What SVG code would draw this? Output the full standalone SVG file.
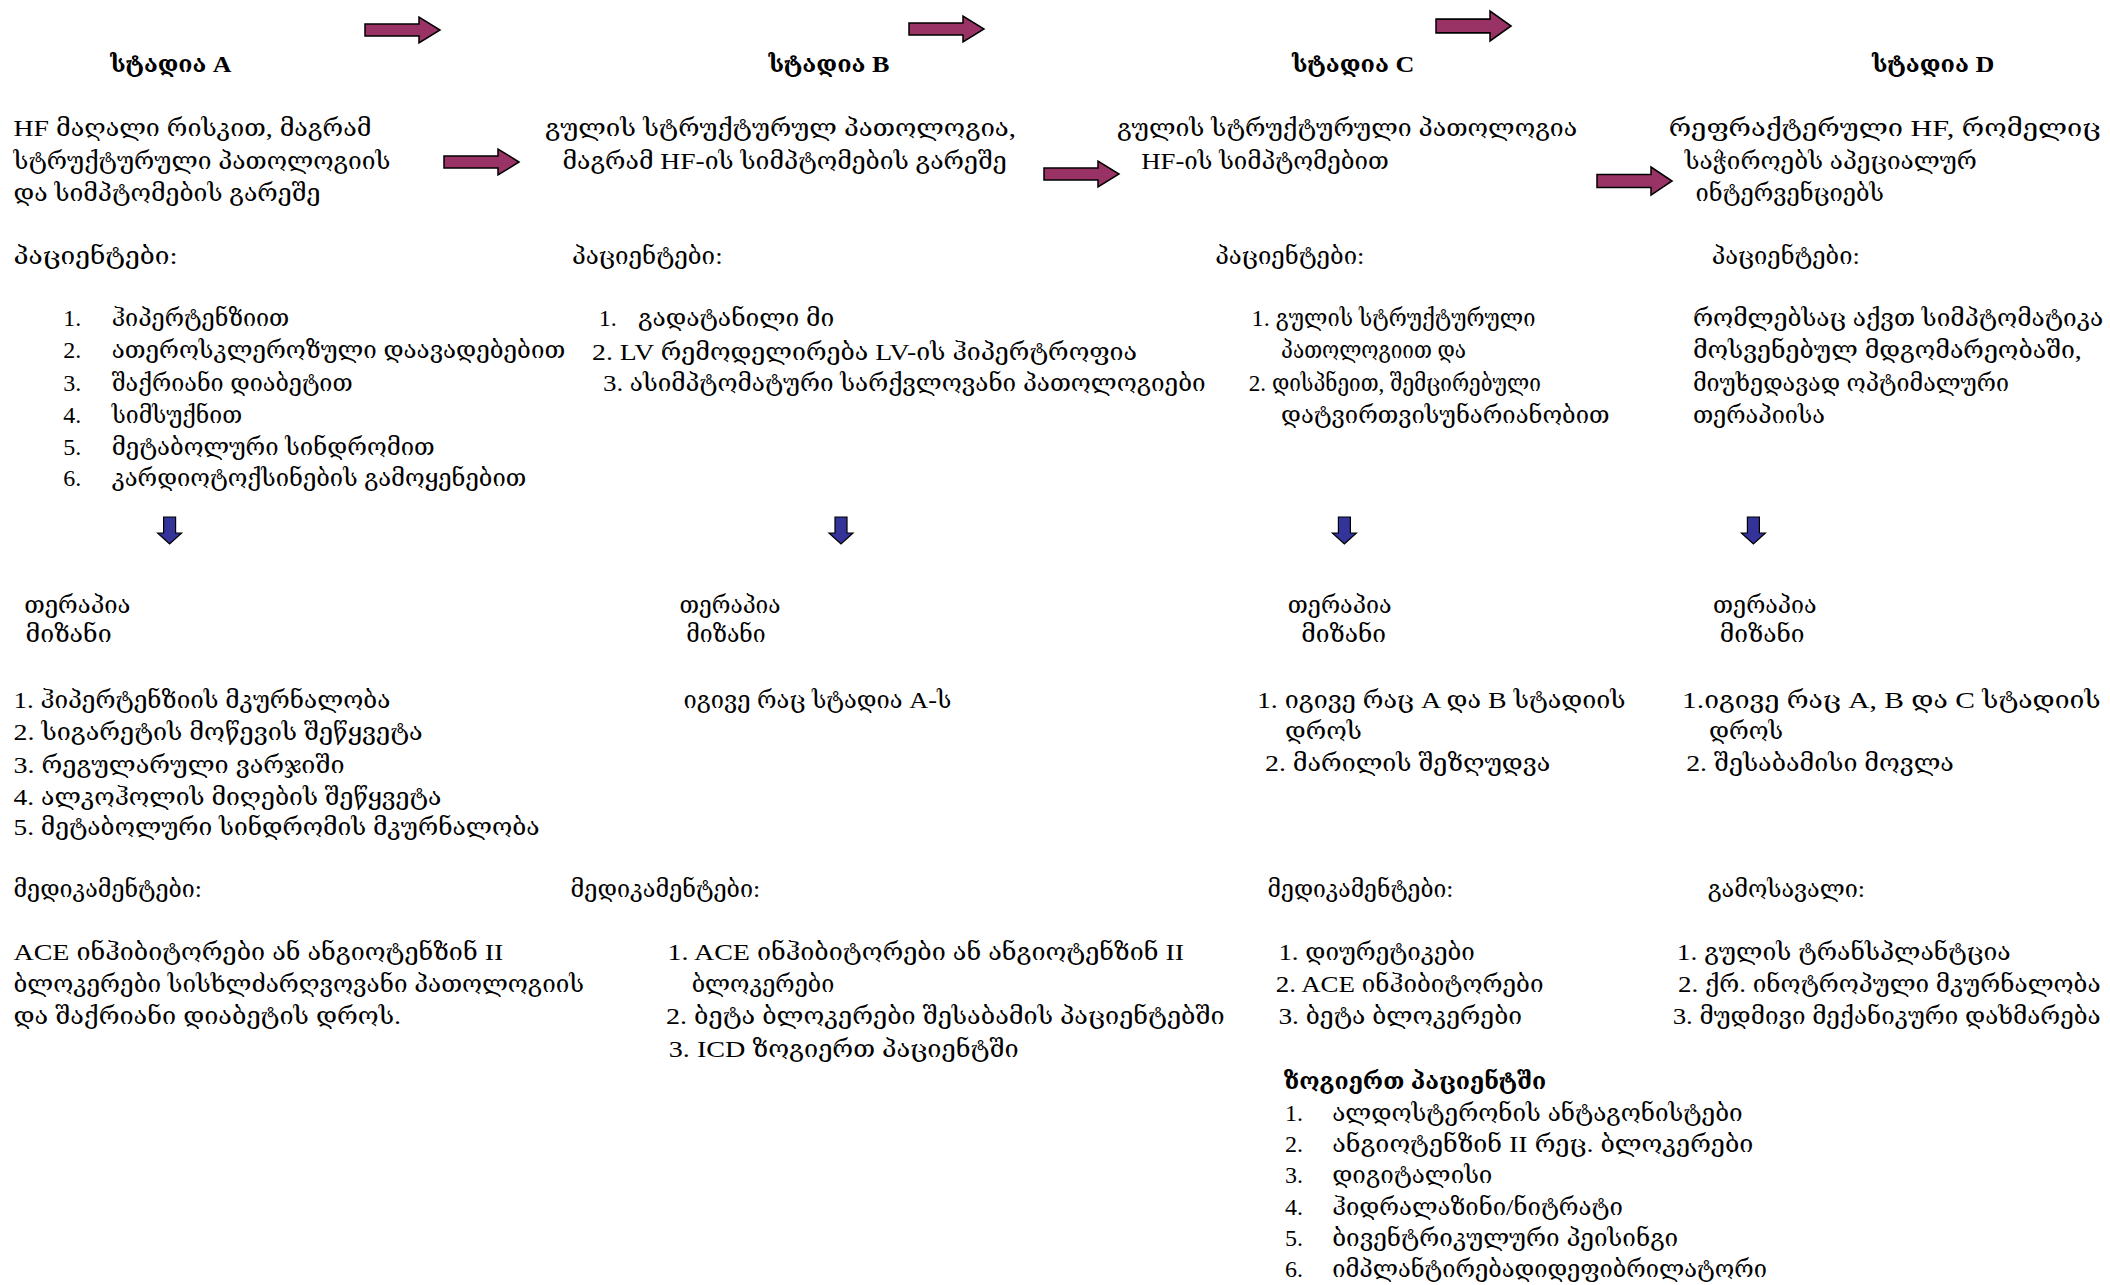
<svg xmlns="http://www.w3.org/2000/svg" xmlns:xlink="http://www.w3.org/1999/xlink" width="2110" height="1285" viewBox="0 0 2110 1285">
<style>
text{font-family:'Liberation Serif','DejaVu Serif Condensed','DejaVu Serif',serif;font-size:24px;fill:#000}
.b{font-weight:bold}
.ra{fill:#993366;stroke:#000;stroke-width:1.5}
.da{fill:#333399;stroke:#000;stroke-width:1.2}
</style>
<defs>
<path id="rarrow" d="M0,7 H54 V0 L75,13 L54,26 V19 H0 Z"/>
<path id="darrow" d="M-6,0 H6 V16 H12 L0,27 L-12,16 H-6 Z"/>
</defs>
<rect width="2110" height="1285" fill="#fff"/>

<g id="connectors">
<use href="#rarrow" class="ra" x="365" y="17"/>
<use href="#rarrow" class="ra" x="909" y="16"/>
<use href="#rarrow" class="ra" transform="translate(1436,11) scale(1,1.15)"/>
<use href="#rarrow" class="ra" x="444" y="149"/>
<use href="#rarrow" class="ra" x="1044" y="161"/>
<use href="#rarrow" class="ra" transform="translate(1597,167) scale(1,1.08)"/>
<use href="#darrow" class="da" x="169.6" y="517"/>
<use href="#darrow" class="da" x="841" y="517"/>
<use href="#darrow" class="da" x="1344.4" y="517"/>
<use href="#darrow" class="da" x="1753.4" y="517"/>
</g>

<g id="stageA">
<text class="b" x="110.3" y="72" textLength="121.2" lengthAdjust="spacingAndGlyphs">სტადია A</text>
<text x="13.5" y="136" textLength="357.9" lengthAdjust="spacingAndGlyphs">HF მაღალი რისკით, მაგრამ</text>
<text x="13.5" y="168.5" textLength="376.8" lengthAdjust="spacingAndGlyphs">სტრუქტურული პათოლოგიის</text>
<text x="13.5" y="201" textLength="306.8" lengthAdjust="spacingAndGlyphs">და სიმპტომების გარეშე</text>
</g>
<g id="patientsA">
<text x="13.5" y="264" textLength="164.1" lengthAdjust="spacingAndGlyphs">პაციენტები:</text>
<text x="63.2" y="326">1.</text><text x="111.7" y="326" textLength="177.6" lengthAdjust="spacingAndGlyphs">ჰიპერტენზიით</text>
<text x="63.2" y="358.2">2.</text><text x="111.7" y="358.2" textLength="453.5" lengthAdjust="spacingAndGlyphs">ათეროსკლეროზული დაავადებებით</text>
<text x="63.2" y="390.5">3.</text><text x="111.7" y="390.5" textLength="240.9" lengthAdjust="spacingAndGlyphs">შაქრიანი დიაბეტით</text>
<text x="63.2" y="422.8">4.</text><text x="111.7" y="422.8" textLength="130.5" lengthAdjust="spacingAndGlyphs">სიმსუქნით</text>
<text x="63.2" y="455.1">5.</text><text x="111.7" y="455.1" textLength="323" lengthAdjust="spacingAndGlyphs">მეტაბოლური სინდრომით</text>
<text x="63.2" y="486.1">6.</text><text x="111.7" y="486.1" textLength="414.5" lengthAdjust="spacingAndGlyphs">კარდიოტოქსინების გამოყენებით</text>
</g>
<g id="therapyA">
<text x="24.2" y="612.6" textLength="106.3" lengthAdjust="spacingAndGlyphs">თერაპია</text>
<text x="25.6" y="642.2" textLength="86.1" lengthAdjust="spacingAndGlyphs">მიზანი</text>
<text x="13.5" y="708.1" textLength="376.8" lengthAdjust="spacingAndGlyphs">1. ჰიპერტენზიის მკურნალობა</text>
<text x="13.5" y="740.4" textLength="409.1" lengthAdjust="spacingAndGlyphs">2. სიგარეტის მოწევის შეწყვეტა</text>
<text x="13.5" y="772.7" textLength="331" lengthAdjust="spacingAndGlyphs">3. რეგულარული ვარჯიში</text>
<text x="13.5" y="805" textLength="427.9" lengthAdjust="spacingAndGlyphs">4. ალკოჰოლის მიღების შეწყვეტა</text>
<text x="13.5" y="835" textLength="526.1" lengthAdjust="spacingAndGlyphs">5. მეტაბოლური სინდრომის მკურნალობა</text>
</g>
<g id="medsA">
<text x="13.5" y="896.5" textLength="188.4" lengthAdjust="spacingAndGlyphs">მედიკამენტები:</text>
<text x="13.5" y="959.8" textLength="489.8" lengthAdjust="spacingAndGlyphs">ACE ინჰიბიტორები ან ანგიოტენზინ II</text>
<text x="13.5" y="992" textLength="570.5" lengthAdjust="spacingAndGlyphs">ბლოკერები სისხლძარღვოვანი პათოლოგიის</text>
<text x="13.5" y="1024.3" textLength="387.5" lengthAdjust="spacingAndGlyphs">და შაქრიანი დიაბეტის დროს.</text>
</g>

<g id="stageB">
<text class="b" x="768.4" y="72" textLength="121.1" lengthAdjust="spacingAndGlyphs">სტადია B</text>
<text x="545" y="136" textLength="471" lengthAdjust="spacingAndGlyphs">გულის სტრუქტურულ პათოლოგია,</text>
<text x="562.5" y="168.5" textLength="444.1" lengthAdjust="spacingAndGlyphs">მაგრამ HF-ის სიმპტომების გარეშე</text>
</g>
<g id="patientsB">
<text x="571.9" y="264" textLength="150.7" lengthAdjust="spacingAndGlyphs">პაციენტები:</text>
<text x="598.8" y="326">1.</text><text x="637.9" y="326" textLength="196.4" lengthAdjust="spacingAndGlyphs">გადატანილი მი</text>
<text x="592.1" y="359.6" textLength="545" lengthAdjust="spacingAndGlyphs">2. LV რემოდელირება LV-ის ჰიპერტროფია</text>
<text x="602.9" y="390.5" textLength="602.8" lengthAdjust="spacingAndGlyphs">3. ასიმპტომატური სარქვლოვანი პათოლოგიები</text>
</g>
<g id="therapyB">
<text x="679.6" y="612.6" textLength="100.9" lengthAdjust="spacingAndGlyphs">თერაპია</text>
<text x="686.3" y="642.2" textLength="79.4" lengthAdjust="spacingAndGlyphs">მიზანი</text>
<text x="683.6" y="708.1" textLength="267.8" lengthAdjust="spacingAndGlyphs">იგივე რაც სტადია A-ს</text>
</g>
<g id="medsB">
<text x="570.6" y="896.5" textLength="189.7" lengthAdjust="spacingAndGlyphs">მედიკამენტები:</text>
<text x="667.5" y="959.8" textLength="516.7" lengthAdjust="spacingAndGlyphs">1. ACE ინჰიბიტორები ან ანგიოტენზინ II</text>
<text x="691.7" y="992" textLength="142.6" lengthAdjust="spacingAndGlyphs">ბლოკერები</text>
<text x="666.1" y="1024.3" textLength="558.5" lengthAdjust="spacingAndGlyphs">2. ბეტა ბლოკერები შესაბამის პაციენტებში</text>
<text x="668.8" y="1056.6" textLength="349.9" lengthAdjust="spacingAndGlyphs">3. ICD ზოგიერთ პაციენტში</text>
</g>

<g id="stageC">
<text class="b" x="1291.9" y="72" textLength="122.4" lengthAdjust="spacingAndGlyphs">სტადია C</text>
<text x="1116.9" y="136" textLength="460.3" lengthAdjust="spacingAndGlyphs">გულის სტრუქტურული პათოლოგია</text>
<text x="1141.2" y="168.5" textLength="247.6" lengthAdjust="spacingAndGlyphs">HF-ის სიმპტომებით</text>
</g>
<g id="patientsC">
<text x="1215.2" y="264" textLength="149.3" lengthAdjust="spacingAndGlyphs">პაციენტები:</text>
<text x="1251.5" y="326" textLength="283.9" lengthAdjust="spacingAndGlyphs">1. გულის სტრუქტურული</text>
<text x="1281.1" y="358.2" textLength="185" lengthAdjust="spacingAndGlyphs">პათოლოგიით და</text>
<text x="1248.8" y="390.5" textLength="292" lengthAdjust="spacingAndGlyphs">2. დისპნეით, შემცირებული</text>
<text x="1281.1" y="422.8" textLength="328.4" lengthAdjust="spacingAndGlyphs">დატვირთვისუნარიანობით</text>
</g>
<g id="therapyC">
<text x="1287.8" y="612.6" textLength="103.7" lengthAdjust="spacingAndGlyphs">თერაპია</text>
<text x="1301.3" y="642.2" textLength="84.8" lengthAdjust="spacingAndGlyphs">მიზანი</text>
<text x="1256.9" y="708.1" textLength="368.7" lengthAdjust="spacingAndGlyphs">1. იგივე რაც A და B  სტადიის</text>
<text x="1285.1" y="739" textLength="76.7" lengthAdjust="spacingAndGlyphs">დროს</text>
<text x="1265" y="771.4" textLength="285.2" lengthAdjust="spacingAndGlyphs">2. მარილის შეზღუდვა</text>
</g>
<g id="medsC">
<text x="1267.6" y="896.5" textLength="185.8" lengthAdjust="spacingAndGlyphs">მედიკამენტები:</text>
<text x="1278.4" y="959.8" textLength="196.5" lengthAdjust="spacingAndGlyphs">1. დიურეტიკები</text>
<text x="1275.7" y="992" textLength="267.8" lengthAdjust="spacingAndGlyphs">2. ACE ინჰიბიტორები</text>
<text x="1278.4" y="1024.3" textLength="243.6" lengthAdjust="spacingAndGlyphs">3. ბეტა ბლოკერები</text>
</g>
<g id="somePatientsC">
<text class="b" x="1283.8" y="1089" textLength="262.4" lengthAdjust="spacingAndGlyphs">ზოგიერთ პაციენტში</text>
<text x="1285.1" y="1121.2">1.</text><text x="1332.2" y="1121.2" textLength="410.5" lengthAdjust="spacingAndGlyphs">ალდოსტერონის ანტაგონისტები</text>
<text x="1285.1" y="1152.2">2.</text><text x="1332.2" y="1152.2" textLength="421.2" lengthAdjust="spacingAndGlyphs">ანგიოტენზინ II რეც. ბლოკერები</text>
<text x="1285.1" y="1183.1">3.</text><text x="1332.2" y="1183.1" textLength="160.2" lengthAdjust="spacingAndGlyphs">დიგიტალისი</text>
<text x="1285.1" y="1215.4">4.</text><text x="1332.2" y="1215.4" textLength="290.7" lengthAdjust="spacingAndGlyphs">ჰიდრალაზინი/ნიტრატი</text>
<text x="1285.1" y="1246.4">5.</text><text x="1332.2" y="1246.4" textLength="345.9" lengthAdjust="spacingAndGlyphs">ბივენტრიკულური პეისინგი</text>
<text x="1285.1" y="1277.3">6.</text><text x="1332.2" y="1277.3" textLength="434.7" lengthAdjust="spacingAndGlyphs">იმპლანტირებადიდეფიბრილატორი</text>
</g>

<g id="stageD">
<text class="b" x="1871.9" y="72" textLength="122.4" lengthAdjust="spacingAndGlyphs">სტადია D</text>
<text x="1668.7" y="136" textLength="431.9" lengthAdjust="spacingAndGlyphs">რეფრაქტერული HF, რომელიც</text>
<text x="1684.8" y="168.5" textLength="292" lengthAdjust="spacingAndGlyphs">საჭიროებს აპეციალურ</text>
<text x="1695.6" y="201" textLength="188.4" lengthAdjust="spacingAndGlyphs">ინტერვენციებს</text>
</g>
<g id="patientsD">
<text x="1711.7" y="264" textLength="148.1" lengthAdjust="spacingAndGlyphs">პაციენტები:</text>
<text x="1692.9" y="326" textLength="410.4" lengthAdjust="spacingAndGlyphs">რომლებსაც აქვთ სიმპტომატიკა</text>
<text x="1692.9" y="358.2" textLength="388.9" lengthAdjust="spacingAndGlyphs">მოსვენებულ მდგომარეობაში,</text>
<text x="1692.9" y="390.5" textLength="316.2" lengthAdjust="spacingAndGlyphs">მიუხედავად ოპტიმალური</text>
<text x="1692.9" y="422.8" textLength="132" lengthAdjust="spacingAndGlyphs">თერაპიისა</text>
</g>
<g id="therapyD">
<text x="1713.1" y="612.6" textLength="103.6" lengthAdjust="spacingAndGlyphs">თერაპია</text>
<text x="1719.8" y="642.2" textLength="84.8" lengthAdjust="spacingAndGlyphs">მიზანი</text>
<text x="1682.1" y="708.1" textLength="418.5" lengthAdjust="spacingAndGlyphs">1.იგივე რაც A, B და  C  სტადიის</text>
<text x="1709" y="739" textLength="74.1" lengthAdjust="spacingAndGlyphs">დროს</text>
<text x="1686.2" y="771.4" textLength="267.7" lengthAdjust="spacingAndGlyphs">2.  შესაბამისი მოვლა</text>
</g>
<g id="outcomeD">
<text x="1707.7" y="896.5" textLength="157.4" lengthAdjust="spacingAndGlyphs">გამოსავალი:</text>
<text x="1676.7" y="959.8" textLength="334" lengthAdjust="spacingAndGlyphs">1. გულის ტრანსპლანტცია</text>
<text x="1678.1" y="992" textLength="422.5" lengthAdjust="spacingAndGlyphs">2. ქრ. ინოტროპული მკურნალობა</text>
<text x="1672.7" y="1024.3" textLength="427.9" lengthAdjust="spacingAndGlyphs">3. მუდმივი მექანიკური დახმარება</text>
</g>
</svg>
